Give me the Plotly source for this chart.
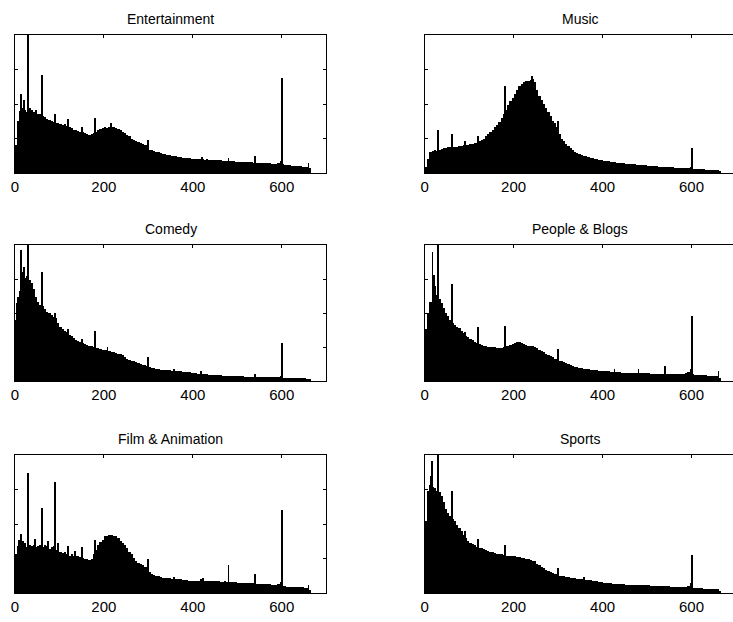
import plotly.graph_objects as go

# Video length histograms per category (seconds), 5-second bins from 0 to 665 s.
# Heights are relative (percent of the panel's vertical range).
bin_left = list(range(0, 665, 5))

titles = ["Entertainment", "Music", "Comedy", "People & Blogs", "Film & Animation", "Sports"]

entertainment = [
    20, 38, 45, 47, 46, 44, 47, 46, 44, 45.5,
    43, 42.5, 41, 40.5, 39, 38.5, 38, 37, 36.5, 36.5,
    35.5, 35, 35.5, 34, 33, 32.5, 31.5, 31, 30.5, 30,
    29.5, 29, 28, 27.5, 28.5, 29, 30, 31, 32, 32.5,
    33, 32.5, 33.5, 33, 33, 32.5, 32, 31, 30, 29,
    27.5, 26.5, 25, 24, 23, 22.5, 21.5, 21, 20.5, 20,
    17, 16.5, 16, 15.5, 15, 14.5, 14, 13.5, 13.2, 13,
    12.5, 12.1, 12.3, 11.6, 11.7, 11.2, 11.1, 10.7, 10.8, 10.4,
    10.4, 10.1, 10.2, 9.9, 10, 9.7, 9.8, 9.5, 9.6, 9.3,
    9.3, 9.1, 9.2, 8.9, 9, 8.7, 8.8, 8.5, 8.6, 8.3,
    8.3, 8.1, 8.2, 7.9, 8, 7.7, 7.8, 7.5, 7.6, 7.3,
    7.3, 7.1, 7.2, 6.9, 7, 6.7, 6.8, 6.5, 7.2, 9,
    6.5, 6, 5.8, 5.7, 5.4, 5.3, 5, 5, 4.8, 4.7,
    4.5, 4.3, 3.5,
]
music = [
    4, 10, 15, 16, 16.5, 16, 17, 17.5, 18, 18,
    18.5, 18.5, 19, 19, 19, 19.5, 19.5, 20, 20.5, 20.5,
    21, 21, 21.5, 22, 23, 24, 25, 26.5, 28, 30,
    31.5, 33, 35, 37, 40, 43, 46, 49, 52, 54,
    57, 60, 63, 64.5, 66, 66.5, 67, 67.5, 68, 66,
    60, 56, 53, 50, 47, 44, 41, 38, 36, 33,
    28, 25, 23, 21, 19.5, 18, 16.5, 15.5, 14.5, 13.8,
    13, 12.6, 12, 11.6, 11, 10.7, 10.2, 10, 9.6, 9.4,
    9, 8.8, 8.5, 8.3, 8, 7.9, 7.6, 7.5, 7.2, 7.1,
    6.8, 6.7, 6.5, 6.4, 6.2, 6.1, 5.9, 5.9, 5.7, 5.6,
    5.4, 5.3, 5, 5, 4.8, 4.7, 4.5, 4.5, 4.3, 4.2,
    4, 4, 3.8, 3.8, 3.6, 3.6, 3.4, 3.4, 3.4, 4,
    3, 2.9, 2.8, 2.8, 2.6, 2.6, 2.4, 2.4, 2.3, 2.2,
    2.2, 2.1, 1.5,
]
comedy = [
    45, 62, 66, 80, 76, 77, 74, 72, 68, 62,
    58, 56, 55, 53, 51, 50, 48.5, 47, 46, 43,
    40, 38.5, 37, 36, 34, 33, 31.5, 30.5, 29.5, 28.5,
    28, 27, 26.5, 26, 25.5, 25, 24.5, 24, 23.5, 23,
    23, 22.5, 22, 21.5, 21, 20.5, 20, 19.5, 19, 18,
    16, 15.5, 15, 14.5, 14, 13, 12.5, 12, 11.5, 11.3,
    10, 9.6, 9.2, 8.9, 8.6, 8.3, 8.1, 8, 7.9, 7.8,
    7.7, 7.5, 7.5, 7.2, 7.1, 6.8, 6.7, 6.4, 6.3, 6,
    5.9, 5.6, 5.5, 5.2, 5.1, 4.9, 4.8, 4.5, 4.5, 4.3,
    4.3, 4.1, 4.1, 3.9, 3.9, 3.7, 3.8, 3.6, 3.7, 3.5,
    3.5, 3.4, 3.4, 3.2, 3.3, 3.1, 3.2, 3, 3.1, 3,
    3, 2.9, 2.9, 2.8, 2.8, 2.7, 2.7, 2.6, 2.8, 3.5,
    2.5, 2.4, 2.3, 2.3, 2.2, 2.2, 2.1, 2.1, 2, 2,
    1.9, 1.8, 1.2,
]
people_blogs = [
    38, 50, 58, 63, 70, 63, 60, 57, 54, 50,
    47.5, 45, 43, 41, 40, 39, 37, 35, 33, 32,
    31, 30, 29, 28, 27, 26.5, 26, 25.5, 25.2, 25,
    25, 24.8, 24.5, 24.3, 24.5, 25, 25.5, 26, 26.8, 27.5,
    28, 28.5, 29, 28, 27, 26.5, 26, 25.8, 25.5, 25,
    24, 23, 22, 21, 20, 19.4, 18.5, 17.5, 16.5, 16,
    15, 14.5, 14, 13, 12.3, 11.6, 11, 10.5, 10, 9.6,
    9.3, 9, 8.8, 8.6, 8.4, 8.2, 8, 7.8, 7.6, 7.4,
    7.2, 7.1, 7, 6.9, 6.8, 6.6, 6.5, 6.3, 6.1, 6,
    6, 5.9, 5.9, 5.8, 5.8, 5.8, 5.7, 5.7, 5.7, 5.6,
    5.6, 5.5, 5.5, 5.5, 5.4, 5.4, 5.4, 5.3, 5.3, 5.3,
    5.2, 5.2, 5.1, 5.1, 5, 5, 5.2, 5.6, 6.5, 9,
    5, 4.6, 4.5, 4.4, 4.3, 4.2, 4.1, 4, 4, 3.9,
    3.8, 3.7, 2.5,
]
film_animation = [
    28, 34, 35, 38, 36, 33, 35, 34, 35, 33,
    34, 35, 33, 35, 34, 32, 33, 34, 31, 32,
    30, 29, 30, 28, 27, 28, 27, 26.5, 27, 26,
    25.5, 25, 24.5, 24.2, 25, 28, 31.5, 35, 37, 38.5,
    41, 41.5, 42, 42, 41.5, 41, 39.5, 38, 36.5, 34.5,
    32.5, 30, 28, 25.5, 23.5, 22, 21, 20, 19.2, 18.7,
    15, 14, 13, 12.3, 12, 11.5, 11.2, 11, 10.8, 10.6,
    10.5, 10.4, 10.2, 10, 9.8, 9.6, 9.4, 9.2, 9, 8.8,
    8.6, 8.5, 8.4, 10.5, 10.8, 9, 8.6, 8.5, 8.4, 8.4,
    8.6, 8.8, 8.3, 8.2, 8.4, 8.1, 8, 7.9, 8, 7.8,
    7.6, 7.5, 7.4, 7.3, 7.2, 7.1, 7, 6.9, 6.8, 6.7,
    6.6, 6.5, 6.4, 6.3, 6.2, 6.1, 6, 6, 6.3, 8,
    5, 4.8, 4.7, 4.6, 4.5, 4.4, 4.3, 4.2, 4.1, 4,
    3.9, 3.8, 2.5,
]
sports = [
    52, 74, 78, 77, 76, 74, 73, 70, 66, 61,
    58, 55.5, 53.5, 52, 49, 47, 45, 42, 40, 38,
    36.5, 35.5, 34.5, 33.5, 32.7, 32.4, 32.2, 31.5, 30.5, 29.8,
    29.5, 29, 28.5, 28.2, 28, 27.5, 27, 26.8, 26.6, 26.6,
    26.5, 26.2, 26, 25.7, 25.4, 25, 24.5, 24, 23.5, 23,
    21, 20, 19, 18, 17, 16, 15.3, 14.6, 14, 13.5,
    12.5, 12.2, 12, 11.7, 11.4, 11.1, 10.9, 10.7, 10.5, 10.3,
    10.1, 9.9, 9.7, 9.5, 9.2, 9, 8.7, 8.4, 8.1, 7.8,
    7.5, 7.3, 7.1, 6.9, 6.8, 6.6, 6.5, 6.4, 6.3, 6.2,
    6.1, 6.1, 6, 6, 5.9, 5.9, 5.8, 5.8, 5.7, 5.6,
    5.5, 5.4, 5.3, 5.2, 5.1, 5, 5, 4.9, 4.9, 4.8,
    4.7, 4.7, 4.6, 4.6, 4.5, 4.5, 4.5, 4.6, 5, 7,
    3.8, 3.6, 3.5, 3.4, 3.3, 3.2, 3.1, 3, 3, 2.9,
    2.8, 2.7, 1.8,
]

# Single-second peaks at popular lengths (seconds, relative height)
ent_peak_t = [13, 20, 30, 60, 90, 120, 150, 180, 216, 300, 420, 480, 540, 600, 660]
ent_peak_v = [57, 53, 110, 71, 43, 39, 33, 40, 36, 24, 11.5, 11, 12, 69, 7]
mus_peak_t = [30, 60, 90, 120, 180, 240, 300, 600]
mus_peak_v = [31, 28, 23, 27, 63, 70, 38, 18]
com_peak_t = [4, 13, 20, 30, 60, 90, 120, 150, 180, 208, 300, 358, 418, 540, 600]
com_peak_v = [57, 96.5, 84, 110, 80, 50, 38, 31, 36.5, 25, 17.6, 9, 7, 5, 28]
pnb_peak_t = [17, 21, 30, 60, 90, 120, 180, 300, 426, 480, 540, 600, 660]
pnb_peak_v = [95, 78, 110, 71, 36, 39.6, 40.8, 23.3, 8.5, 8.5, 10.8, 48, 7]
film_peak_t = [9, 13, 30, 45, 60, 75, 90, 96, 120, 135, 150, 180, 300, 358, 480, 540, 600, 660]
film_peak_v = [38.5, 42.4, 87, 39, 61.7, 38, 80.6, 36, 34, 30.5, 33, 38.6, 25, 11.5, 20, 13.8, 60, 6]
spo_peak_t = [13, 16, 30, 60, 90, 120, 180, 300, 358, 600]
spo_peak_v = [84.8, 95.6, 110, 73.8, 44.7, 39.4, 34.6, 18.2, 11.5, 27.5]

series = [entertainment, music, comedy, people_blogs, film_animation, sports]
peaks = [
    (ent_peak_t, ent_peak_v), (mus_peak_t, mus_peak_v),
    (com_peak_t, com_peak_v), (pnb_peak_t, pnb_peak_v),
    (film_peak_t, film_peak_v), (spo_peak_t, spo_peak_v),
]
x_ticks = [0, 200, 400, 600]

W, H = 733, 622
FONT = "Liberation Sans, Arial, Helvetica, sans-serif"
PX_PER_SEC = 313 / 700.0
col_left_px = [11, 423]
row_px = [(35, 173), (245, 381), (455, 593)]

fig = go.Figure()
annotations = []
for i, (vals, (pt, pv)) in enumerate(zip(series, peaks)):
    n = i + 1
    row, col = divmod(i, 2)
    xa, ya = f"x{n}", f"y{n}"
    fig.add_trace(go.Bar(
        x=[b + 2.5 for b in bin_left], y=vals, width=5,
        marker=dict(color="black", line=dict(width=0)),
        xaxis=xa, yaxis=ya, showlegend=False, hoverinfo="skip",
    ))
    fig.add_trace(go.Bar(
        x=pt, y=pv, width=2,
        marker=dict(color="black", line=dict(width=0)),
        xaxis=xa, yaxis=ya, showlegend=False, hoverinfo="skip",
    ))

    x0 = col_left_px[col]
    x_max = 700 if col == 0 else (W - x0) / PX_PER_SEC
    x1 = min(x0 + 700 * PX_PER_SEC, W)
    top, bot = row_px[row]
    xdom = [x0 / W, x1 / W]
    ydom = [(H - bot) / H, (H - top) / H]

    key = "" if n == 1 else str(n)
    fig.layout["xaxis" + key] = dict(
        domain=xdom, anchor=ya, range=[0, x_max],
        tickvals=x_ticks, ticktext=[str(t) for t in x_ticks],
        ticks="inside", ticklen=3, tickwidth=1, tickcolor="black",
        showline=True, linecolor="black", linewidth=1, mirror="ticks",
        showgrid=False, zeroline=False,
        tickfont=dict(family=FONT, size=15, color="black"),
        fixedrange=True,
    )
    fig.layout["yaxis" + key] = dict(
        domain=ydom, anchor=xa, range=[0, 100],
        tickvals=[0, 25, 50, 75, 100], showticklabels=False,
        ticks="inside", ticklen=3, tickwidth=1, tickcolor="black",
        showline=True, linecolor="black", linewidth=1,
        mirror="ticks" if col == 0 else False,
        showgrid=False, zeroline=False, fixedrange=True,
    )
    annotations.append(dict(
        text=titles[i], xref="paper", yref="paper",
        x=(x0 + 700 * PX_PER_SEC / 2) / W, y=ydom[1],
        xanchor="center", yanchor="bottom", yshift=6, showarrow=False,
        font=dict(family=FONT, size=14, color="black"),
    ))

fig.update_layout(
    width=W, height=H,
    margin=dict(l=0, r=0, t=0, b=0),
    paper_bgcolor="white", plot_bgcolor="white",
    barmode="overlay", bargap=0,
    annotations=annotations,
    showlegend=False,
)

fig.write_html("out.html")
